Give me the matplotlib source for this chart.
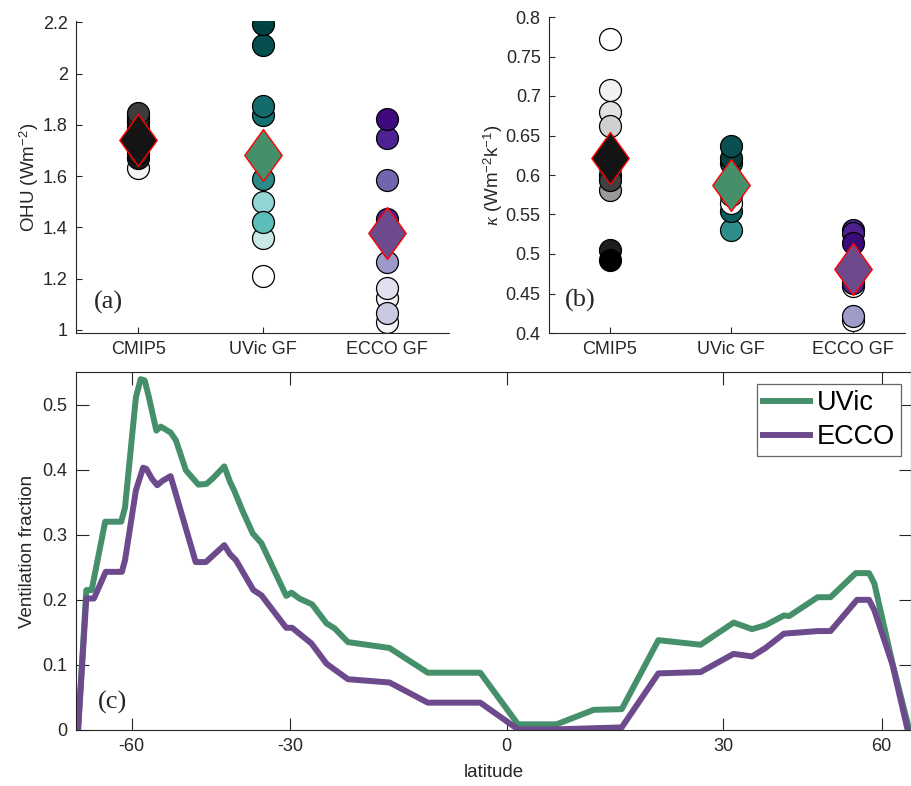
import numpy as np
import matplotlib
matplotlib.use('Agg')
import matplotlib.pyplot as plt
from matplotlib.path import Path
from matplotlib.ticker import FuncFormatter

# ======= Data =======
groups = ['CMIP5', 'UVic GF', 'ECCO GF']

# (a) ocean heat uptake, one list per group (drawn in this order)
ohu_cmip5 = [1.63, 1.67, 1.69, 1.71, 1.73, 1.75, 1.77, 1.79, 1.81, 1.82, 1.83, 1.845]
ohu_cmip5_col = ['#f4f4f4', '#1a1a1a', '#222222', '#2a2a2a', '#303030', '#383838',
                 '#404040', '#2e2e2e', '#3a3a3a', '#555555', '#4a4a4a', '#3c3c3c']
ohu_uvic = [1.21, 1.36, 1.50, 1.42, 1.59, 1.84, 1.875, 2.11, 2.195]
ohu_uvic_col = ['#ffffff', '#c8e9e8', '#93d5d2', '#5dbdb9', '#2a8a88', '#167070',
                '#136b6b', '#054f4f', '#024242']
ohu_ecco = [1.029, 1.123, 1.162, 1.065, 1.263, 1.434, 1.586, 1.75, 1.824]
ohu_ecco_col = ['#f7f7fb', '#f2f2f8', '#e0e0ef', '#c9c9e2', '#9c9aca', '#4a2390',
                '#7166ad', '#4d2393', '#3f0a7d']
ohu_mean = [1.739, 1.683, 1.38]

# (b) kappa
kap_cmip5 = [0.772, 0.707, 0.68, 0.662, 0.62, 0.61, 0.60, 0.581, 0.594, 0.505, 0.493]
kap_cmip5_col = ['#ffffff', '#f2f2f2', '#e2e2e2', '#d0d0d0', '#2a2a2a', '#1e1e1e',
                 '#555555', '#999999', '#404040', '#1e1e1e', '#000000']
kap_uvic = [0.530, 0.554, 0.565, 0.575, 0.585, 0.615, 0.622, 0.637]
kap_uvic_col = ['#2d8e8c', '#0b5e5e', '#ffffff', '#c8e9e8', '#5dbdb9', '#0a4d4d',
                '#063f3f', '#0a5050']
kap_ecco = [0.417, 0.421, 0.459, 0.463, 0.530, 0.526, 0.514]
kap_ecco_col = ['#ffffff', '#9e9cc9', '#ffffff', '#4d2493', '#4b2190', '#4d2090', '#3a0a78']
kap_mean = [0.621, 0.587, 0.481]

mean_col = ['#141414', '#45906a', '#6c4a8c']

# (c) ventilation fraction vs latitude
lat_uvic = [-81.8, -76.1, -73.4, -68.0, -62.9, -61.8, -58.9, -57.7, -56.7, -55.7, -54.0,
            -53.0, -50.9, -49.8, -47.8, -45.4, -43.9, -42.8, -40.7, -39.7, -39.0, -37.6,
            -35.9, -34.5, -30.6, -29.8, -28.6, -26.7, -24.6, -23.4, -21.5, -15.7, -10.5,
            -3.5, 1.5, 6.6, 11.6, 15.4, 20.5, 26.6, 31.6, 34.5, 36.7, 39.8, 40.7, 45.9,
            48.4, 53.7, 56.8, 58.1, 63.0, 68.4]
vf_uvic = [0, 0.215, 0.215, 0.32, 0.32, 0.342, 0.511, 0.539, 0.537, 0.511, 0.46, 0.466,
           0.457, 0.445, 0.399, 0.377, 0.378, 0.386, 0.405, 0.381, 0.368, 0.337, 0.302,
           0.287, 0.206, 0.211, 0.202, 0.193, 0.164, 0.156, 0.135, 0.126, 0.088, 0.088,
           0.0087, 0.0087, 0.031, 0.032, 0.138, 0.131, 0.165, 0.155, 0.161, 0.176, 0.175,
           0.204, 0.204, 0.241, 0.241, 0.225, 0.102, 0]
lat_ecco = [-81.8, -76.1, -72.4, -67.8, -62.7, -61.8, -58.9, -57.1, -56.3, -55.0, -53.8,
            -52.6, -50.9, -45.9, -44.0, -40.7, -39.7, -38.7, -35.8, -34.5, -30.6, -29.7,
            -26.8, -24.6, -23.7, -21.5, -15.7, -10.5, -3.5, 1.5, 6.6, 15.4, 20.5, 26.6,
            31.6, 34.5, 36.7, 39.8, 45.9, 48.4, 54.0, 56.8, 58.1, 63.0, 67.8]
vf_ecco = [0, 0.202, 0.202, 0.243, 0.243, 0.261, 0.368, 0.403, 0.401, 0.386, 0.376,
           0.383, 0.39, 0.258, 0.258, 0.284, 0.27, 0.261, 0.215, 0.207, 0.157, 0.157,
           0.133, 0.102, 0.095, 0.078, 0.073, 0.042, 0.042, 0.001, 0.001, 0.004, 0.087,
           0.089, 0.117, 0.113, 0.126, 0.148, 0.152, 0.152, 0.2, 0.2, 0.184, 0.1, 0]
lat_ticks = [-60, -30, 0, 30, 60]

# ======= Style =======
plt.rcParams['font.family'] = ['Liberation Sans', 'DejaVu Sans']
plt.rcParams['mathtext.fontset'] = 'custom'
plt.rcParams['mathtext.rm'] = 'Liberation Sans'
plt.rcParams['mathtext.it'] = 'Liberation Serif:italic'
TXT = '#262626'
gfmt = FuncFormatter(lambda v, p: '%g' % round(v, 4))

diamond = Path([(0, 1), (0.72, 0), (0, -1), (-0.72, 0), (0, 1)],
               [Path.MOVETO, Path.LINETO, Path.LINETO, Path.LINETO, Path.CLOSEPOLY])

fig = plt.figure(figsize=(9.11, 7.86), dpi=100, facecolor='white')
W, H = 911, 786


def px_axes(l, t, r, b):
    return fig.add_axes([l / W, 1 - b / H, (r - l) / W, (b - t) / H])


def dot_panel(ax, cols_vals, means):
    for i, (vals, cols) in enumerate(cols_vals):
        for v, c in zip(vals, cols):
            ax.plot(i + 1, v, 'o', ms=15.8, mfc=c, mec='black', mew=0.9)
        ax.plot(i + 1, means[i], marker=diamond, ms=37.4, mfc=mean_col[i],
                mec='red', mew=1.0, ls='none')
    ax.set_xticks([1, 2, 3])
    ax.set_xticklabels(groups)
    for s in ['top', 'right']:
        ax.spines[s].set_visible(False)
    for s in ['left', 'bottom']:
        ax.spines[s].set_color(TXT)
        ax.spines[s].set_linewidth(0.8)
    ax.tick_params(direction='in', length=4.5, width=0.8, colors=TXT,
                   labelsize=13, pad=6)
    ax.yaxis.set_major_formatter(gfmt)


# ======= Painel (a) =======
ax1 = px_axes(76, 21, 449, 333)
dot_panel(ax1, [(ohu_cmip5, ohu_cmip5_col), (ohu_uvic, ohu_uvic_col),
                (ohu_ecco, ohu_ecco_col)], ohu_mean)
ax1.set_xlim(0.5, 3.5)
ax1.set_ylim(0.988, 2.205)
ax1.set_yticks(np.arange(1.0, 2.21, 0.2))
ax1.set_ylabel('OHU (Wm$^{-2}$)', fontsize=13.5, color=TXT, va='center')
ax1.yaxis.set_label_coords(-0.126, 0.5)
ax1.text(0.086, 0.099, '(a)', transform=ax1.transAxes, fontsize=19,
         family='Liberation Serif', ha='center', va='center', color=TXT)

# ======= Painel (b) =======
ax2 = px_axes(549, 17, 905, 333)
dot_panel(ax2, [(kap_cmip5, kap_cmip5_col), (kap_uvic, kap_uvic_col),
                (kap_ecco, kap_ecco_col)], kap_mean)
ax2.set_xlim(0.5, 3.43)
ax2.set_ylim(0.4, 0.8)
ax2.set_yticks(np.arange(0.4, 0.801, 0.05))
ax2.set_ylabel(r'$\kappa$ (Wm$^{-2}$k$^{-1}$)', fontsize=13.5, color=TXT, va='center')
ax2.yaxis.set_label_coords(-0.157, 0.5)
ax2.text(0.087, 0.104, '(b)', transform=ax2.transAxes, fontsize=19,
         family='Liberation Serif', ha='center', va='center', color=TXT)

# ======= Painel (c) =======
ax3 = px_axes(76, 372, 911, 730)
ax3.set_xscale('function', functions=(lambda x: np.sin(np.deg2rad(x)),
                                      lambda s: np.rad2deg(np.arcsin(np.clip(s, -1, 1)))))
ax3.plot(lat_uvic, vf_uvic, color='#45906a', lw=4.3, label='UVic', solid_joinstyle='round')
ax3.plot(lat_ecco, vf_ecco, color='#6c4a8c', lw=4.3, label='ECCO', solid_joinstyle='round')
ax3.set_xlim(-84, 69)
ax3.set_ylim(0, 0.55)
ax3.set_xticks(lat_ticks)
ax3.set_xticklabels([str(t) for t in lat_ticks])
ax3.set_yticks(np.arange(0, 0.51, 0.1))
ax3.yaxis.set_major_formatter(gfmt)
ax3.xaxis.set_minor_locator(matplotlib.ticker.NullLocator())
for s in ax3.spines.values():
    s.set_color(TXT)
    s.set_linewidth(0.8)
ax3.tick_params(direction='in', length=9, width=0.8, colors=TXT, labelsize=13,
                pad=6, top=True, right=True)
ax3.set_ylabel('Ventilation fraction', fontsize=13.5, color=TXT, va='center')
ax3.yaxis.set_label_coords(-0.058, 0.5)
ax3.set_xlabel('latitude', fontsize=13.5, color=TXT, va='center')
ax3.xaxis.set_label_coords(0.5, -0.12)
ax3.text(0.044, 0.078, '(c)', transform=ax3.transAxes, fontsize=19,
         family='Liberation Serif', ha='center', va='center', color=TXT)
leg = ax3.legend(loc='upper right', bbox_to_anchor=(0.988, 0.966), borderaxespad=0,
                 fontsize=19.5, handlelength=1.75, handletextpad=0.25,
                 labelspacing=0.3, borderpad=0.22, fancybox=False, framealpha=1)
leg.get_frame().set_edgecolor('#666666')
leg.get_frame().set_linewidth(0.9)

fig.savefig('out.png', dpi=100, facecolor='white')
